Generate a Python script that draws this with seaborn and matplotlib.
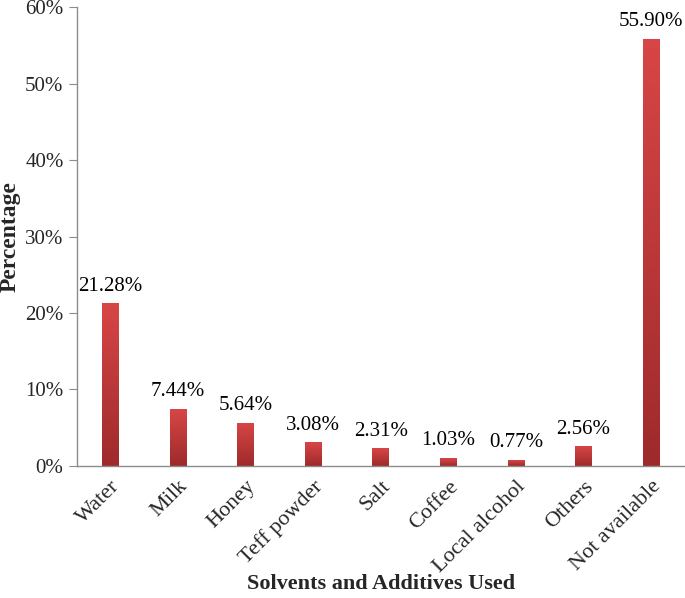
import numpy as np
import pandas as pd
import matplotlib
matplotlib.use('Agg')
import matplotlib.pyplot as plt
from matplotlib.colors import LinearSegmentedColormap
from matplotlib.transforms import ScaledTranslation
import seaborn as sns

categories = ['Water', 'Milk', 'Honey', 'Teff powder', 'Salt', 'Coffee',
              'Local alcohol', 'Others', 'Not available']
values = [21.28, 7.44, 5.64, 3.08, 2.31, 1.03, 0.77, 2.56, 55.90]

sns.set_style('white')
plt.rcParams['font.family'] = ['Liberation Serif', 'DejaVu Serif']

df = pd.DataFrame({'cat': categories, 'val': values})

fig = plt.figure(figsize=(6.85, 5.98), dpi=100)
ax = fig.add_axes([0.112, 0.221, 0.888, 0.767])

sns.barplot(data=df, x='cat', y='val', ax=ax, width=0.25, color='#c0393b',
            saturation=1)

# degradé vertical dans chaque barre
cmap = LinearSegmentedColormap.from_list('rouge', ['#9e2a2b', '#d84646'])
grad = np.linspace(0, 1, 256).reshape(-1, 1)
for bar in ax.patches:
    x0, y0 = bar.get_x(), bar.get_y()
    w, h = bar.get_width(), bar.get_height()
    im = ax.imshow(grad, cmap=cmap, origin='lower', aspect='auto',
                   extent=[x0, x0 + w, y0, y0 + h], zorder=bar.get_zorder() + 0.1)
    im.set_clip_path(bar)
    ax.text(x0 + w / 2, h + 1.0, f'{h:.2f}%', ha='center', va='bottom',
            fontsize=15, color='black')

ax.set_xlim(-0.5, len(categories) - 0.5)
ax.set_ylim(0, 60)
ax.set_yticks(np.arange(0, 61, 10))
ax.set_yticklabels([f'{t}%' for t in range(0, 61, 10)], fontsize=15)
ax.set_xticks(range(len(categories)))
ax.set_xticklabels(categories, rotation=45, ha='right', rotation_mode='anchor',
                   fontsize=16)
shift = ScaledTranslation(-6 / 72, 0, fig.dpi_scale_trans)
for lab in ax.get_xticklabels():
    lab.set_transform(lab.get_transform() + shift)

for s in ['top', 'right']:
    ax.spines[s].set_visible(False)
for s in ['left', 'bottom']:
    ax.spines[s].set_color('#8c8c8c')
    ax.spines[s].set_linewidth(1.0)
ax.tick_params(axis='y', length=6, color='#8c8c8c', left=True, direction='out')
ax.tick_params(axis='x', length=0, pad=8)

ax.set_xlabel('Solvents and Additives Used', fontsize=16, fontweight='bold')
ax.set_ylabel('Percentage', fontsize=17, fontweight='bold')
ax.xaxis.set_label_coords(0.5, -0.236)
ax.yaxis.set_label_coords(-0.093, 0.5)

fig.savefig('out.png', dpi=100)
